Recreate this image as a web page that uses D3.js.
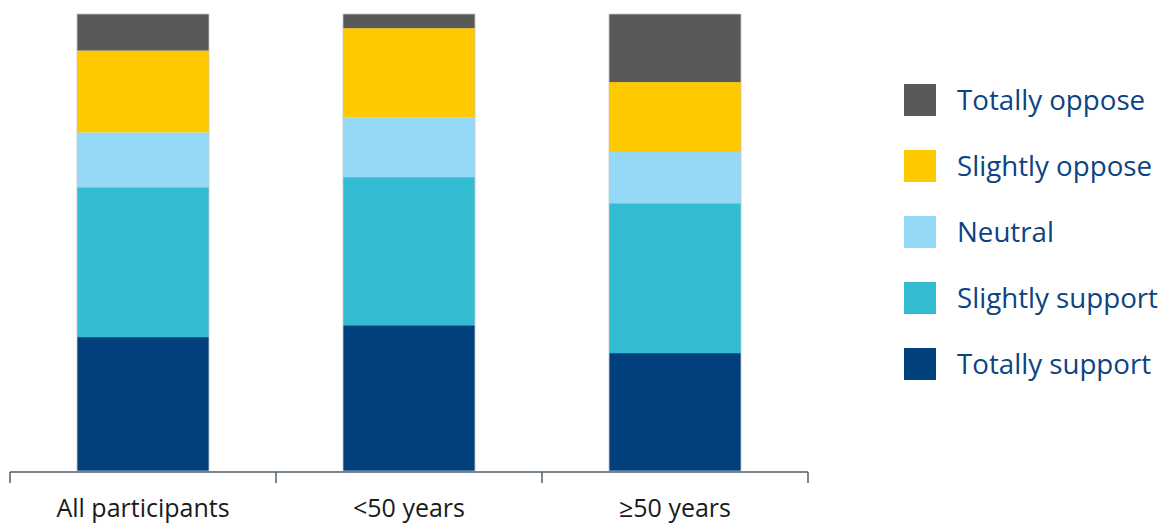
<!DOCTYPE html>
<html>
<head>
<meta charset="utf-8">
<script src="https://cdn.jsdelivr.net/npm/d3@7"></script>
<style>
  body { margin: 0; background: #fff; }
  text { font-family: "Open Sans", "Noto Sans", sans-serif; }
</style>
</head>
<body>
<svg id="chart"></svg>
<script>
// Data (percent of respondents)
var groups = ["All participants", "<50 years", "\u226550 years"];
var answers = ["Totally support", "Slightly support", "Neutral", "Slightly oppose", "Totally oppose"];
var totallySupport = [29.3, 31.9, 25.8];
var slightlySupport = [32.8, 32.4, 32.8];
var neutral = [12.0, 13.1, 11.2];
var slightlyOppose = [17.9, 19.5, 15.3];
var totallyOppose = [8.0, 3.1, 14.9];
var colors = ["#00407C", "#33BBD1", "#93D8F4", "#FFC900", "#595959"];

var width = 1170, height = 524;
var svg = d3.select("#chart")
    .attr("width", width)
    .attr("height", height);

// build table for stacking
var table = groups.map(function(g, i) {
    return {
        group: g,
        "Totally support": totallySupport[i],
        "Slightly support": slightlySupport[i],
        "Neutral": neutral[i],
        "Slightly oppose": slightlyOppose[i],
        "Totally oppose": totallyOppose[i]
    };
});

var stack = d3.stack().keys(answers).offset(d3.stackOffsetExpand);
var series = stack(table);

var x = d3.scaleBand()
    .domain(groups)
    .range([10, 808])
    .paddingInner(0)
    .paddingOuter(0);

var y = d3.scaleLinear()
    .domain([0, 1])
    .range([471, 14]);

var color = d3.scaleOrdinal().domain(answers).range(colors);

var barW = 132;

svg.append("g")
    .selectAll("g")
    .data(series)
    .enter().append("g")
        .attr("fill", function(d) { return color(d.key); })
    .selectAll("rect")
    .data(function(d) { return d; })
    .enter().append("rect")
        .attr("x", function(d) { return x(d.data.group) + (x.bandwidth() - barW) / 2; })
        .attr("y", function(d) { return y(d[1]); })
        .attr("width", barW)
        .attr("height", function(d) { return y(d[0]) - y(d[1]); });

// thin outline around each bar
svg.append("g")
    .selectAll("rect")
    .data(groups)
    .enter().append("rect")
        .attr("x", function(d) { return x(d) + (x.bandwidth() - barW) / 2; })
        .attr("y", y(1))
        .attr("width", barW)
        .attr("height", y(0) - y(1))
        .attr("fill", "none")
        .attr("stroke", "#c8c8c8")
        .attr("stroke-width", 0.8);

// x axis with category separators
var axisG = svg.append("g")
    .attr("transform", "translate(0," + 472 + ")");

axisG.append("line")
    .attr("x1", 10).attr("x2", 808)
    .attr("stroke", "#4d5d6c")
    .attr("stroke-width", 1.5);

var bounds = groups.map(function(g) { return x(g); }).concat([x.range()[1]]);
axisG.selectAll(".sep")
    .data(bounds)
    .enter().append("line")
        .attr("class", "sep")
        .attr("x1", function(d) { return d; })
        .attr("x2", function(d) { return d; })
        .attr("y1", 0)
        .attr("y2", 11)
        .attr("stroke", "#4d5d6c")
        .attr("stroke-width", 1.5);

axisG.selectAll(".lbl")
    .data(groups)
    .enter().append("text")
        .attr("class", "lbl")
        .attr("x", function(d) { return x(d) + x.bandwidth() / 2; })
        .attr("y", 45)
        .attr("text-anchor", "middle")
        .attr("font-size", "25px")
        .attr("fill", "#1a1a1a")
        .text(function(d) { return d; });

// legend (top to bottom: oppose -> support)
var legendItems = answers.slice().reverse();
var legend = svg.append("g")
    .selectAll("g")
    .data(legendItems)
    .enter().append("g")
        .attr("transform", function(d, i) { return "translate(904," + (84 + i * 66) + ")"; });

legend.append("rect")
    .attr("width", 32)
    .attr("height", 32)
    .attr("fill", function(d) { return color(d); });

legend.append("text")
    .attr("x", 53)
    .attr("y", 26)
    .attr("font-size", "27.7px")
    .attr("fill", "#0d4382")
    .text(function(d) { return d; });
</script>
</body>
</html>
